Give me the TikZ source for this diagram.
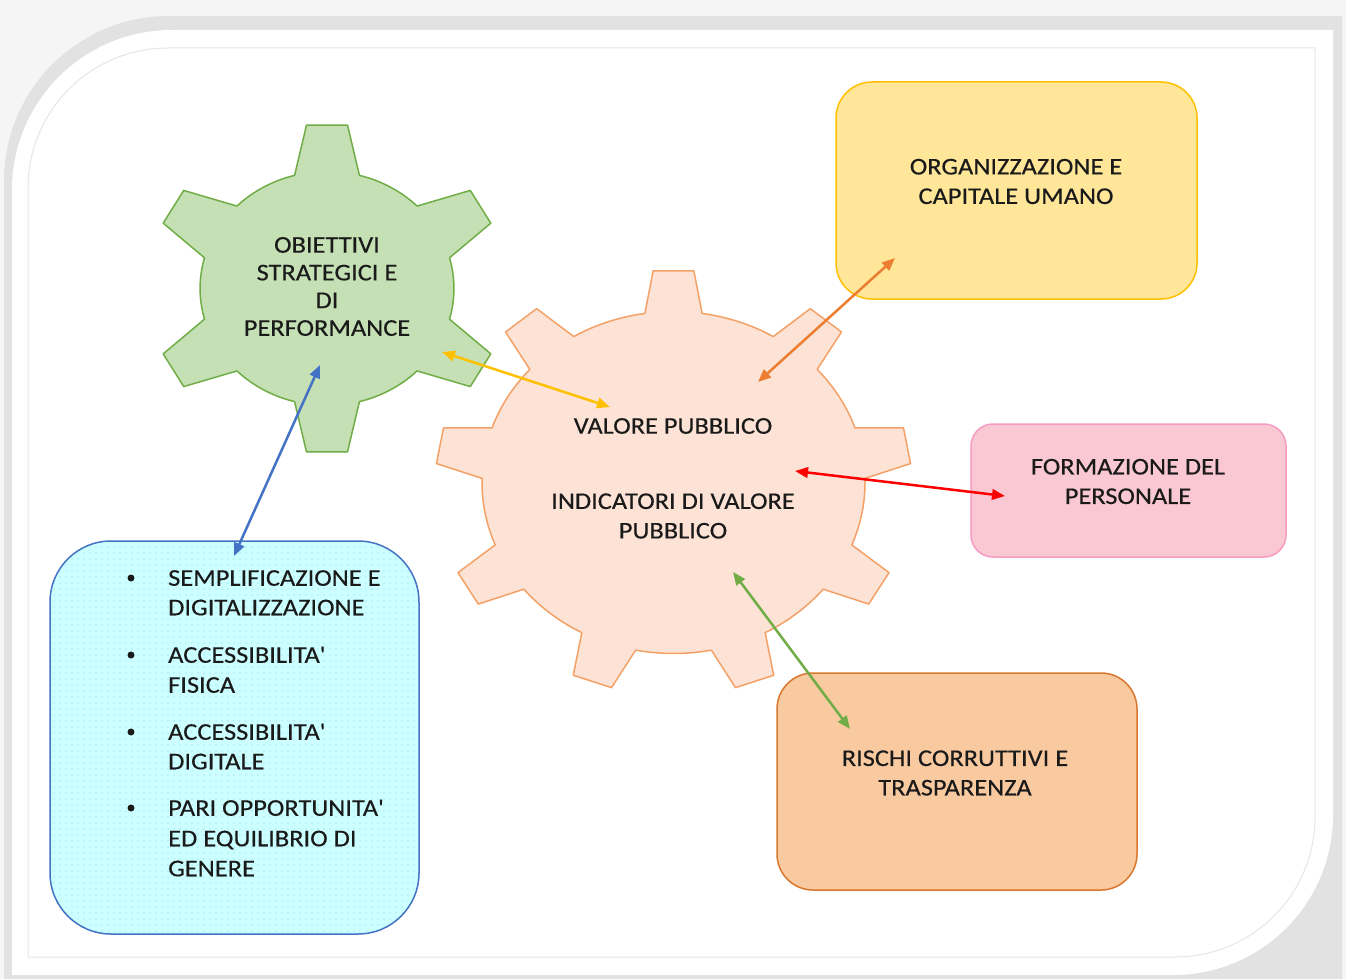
\documentclass[tikz,border=0pt]{standalone}
\usepackage{fontspec}
\setmainfont{Carlito}[FakeStretch=1.10,FakeBold=0.35,Ligatures=TeXOff]
\usetikzlibrary{arrows.meta,patterns.meta}
\definecolor{bgout}{HTML}{F5F5F5}
\definecolor{shadowc}{HTML}{E2E2E2}
\definecolor{innerline}{HTML}{E6E6E6}
\definecolor{greenfill}{HTML}{C5E0B4}
\definecolor{greendraw}{HTML}{70AD47}
\definecolor{salmonfill}{HTML}{FCE3D5}
\definecolor{salmondraw}{HTML}{F4A167}
\definecolor{yellowfill}{HTML}{FFE699}
\definecolor{yellowdraw}{HTML}{FFC000}
\definecolor{pinkfill}{HTML}{FAC8D2}
\definecolor{pinkdraw}{HTML}{F59BC1}
\definecolor{orangefill}{HTML}{F9C9A0}
\definecolor{orangedraw}{HTML}{D9772E}
\definecolor{cyanfill}{HTML}{CCFFFF}
\definecolor{cyandot}{HTML}{8FD3EA}
\definecolor{bluedraw}{HTML}{4472C4}
\definecolor{arrowblue}{HTML}{4472C4}
\definecolor{arrowyellow}{HTML}{FFC000}
\definecolor{arroworange}{HTML}{ED7D31}
\definecolor{arrowred}{HTML}{FF0000}
\definecolor{arrowgreen}{HTML}{70AD47}
\definecolor{txt}{HTML}{1A1A1A}
\begin{document}
\begin{tikzpicture}[x=1pt,y=-1pt,
  box/.style={draw, line width=1.5pt, inner sep=0pt},
  lbl/.style={align=center, text=txt, font=\fontsize{24}{29.5}\selectfont, inner sep=0pt},
  geartxt/.style={align=center, text=txt, font=\fontsize{24}{27.7}\selectfont, inner sep=0pt},
  listline/.style={anchor=west, text=txt, font=\fontsize{24}{29.5}\selectfont, inner sep=0pt, text height=15.5pt, text depth=0pt},
  bulletdot/.style={circle, fill=txt, inner sep=0pt, minimum size=7pt},
  link/.style={line width=2.5pt, {Triangle[length=13pt,width=10.5pt]}-{Triangle[length=13pt,width=10.5pt]}},
]
\useasboundingbox (0,0) rectangle (1346,979);
% ---- frame ----
\fill[bgout] (0,0) rectangle (1346,979);
\fill[shadowc] (4,979) -- (4,16+165) arc[start angle=180,end angle=270,radius=165] -- (1342,16) -- (1342,979) -- cycle;
\fill[white] (12,975) -- (12,30+160) arc[start angle=180,end angle=270,radius=160] -- (1333,30) -- (1333,975-160) arc[start angle=0,end angle=90,radius=160] -- cycle;
\draw[innerline, line width=1pt] (28,957) -- (28,48+140) arc[start angle=180,end angle=270,radius=140] -- (1315,48) -- (1315,957-140) arc[start angle=0,end angle=90,radius=140] -- cycle;

% ---- green gear ----
\begin{scope}[shift={(327,288.5)}, xscale=1.085]
\def\gRt{164.5}\def\gRb{117}\def\gT{6.6}\def\gB{14.8}
\path[fill=greenfill, draw=greendraw, line width=1.5pt, line join=round]
  ({-90-\gB}:\gRb)
  \foreach \k in {0,...,5}{
    -- ({-90+60*\k-\gT}:\gRt) -- ({-90+60*\k+\gT}:\gRt) -- ({-90+60*\k+\gB}:\gRb)
    arc[start angle={-90+60*\k+\gB}, end angle={-30+60*\k-\gB}, radius=\gRb]
  } -- cycle;
\end{scope}

% ---- salmon gear ----
\begin{scope}[shift={(673.5,482.5)}, xscale=1.12]
\def\sRt{212.5}\def\sRb{171}\def\sT{4.9}\def\sB{8.6}
\path[fill=salmonfill, draw=salmondraw, line width=1.5pt, line join=round]
  ({-90-\sB}:\sRb)
  \foreach \k in {0,...,8}{
    -- ({-90+40*\k-\sT}:\sRt) -- ({-90+40*\k+\sT}:\sRt) -- ({-90+40*\k+\sB}:\sRb)
    arc[start angle={-90+40*\k+\sB}, end angle={-50+40*\k-\sB}, radius=\sRb]
  } -- cycle;
\end{scope}

% ---- boxes ----
\node[box, fill=yellowfill, draw=yellowdraw, minimum width=361pt, minimum height=217pt, rounded corners=36pt] (org) at (1016.5,190.5) {};
\node[box, fill=pinkfill, draw=pinkdraw, minimum width=315pt, minimum height=133pt, rounded corners=22pt] (form) at (1128.5,490.5) {};
\node[box, fill=orangefill, draw=orangedraw, minimum width=360pt, minimum height=217pt, rounded corners=36pt] (risk) at (957,781.5) {};
\node[box, draw=bluedraw, preaction={fill=cyanfill}, pattern={Dots[distance=6pt,radius=0.6pt]}, pattern color=cyandot, minimum width=369pt, minimum height=393pt, rounded corners=61pt] (list) at (234.5,737.5) {};

% ---- texts ----
\node[geartxt] (obj) at (327,286.5) {OBIETTIVI\\STRATEGICI E\\DI\\PERFORMANCE};
\node[lbl] (vp) at (673,426) {VALORE PUBBLICO};
\node[lbl] (ind) at (673,516) {INDICATORI DI VALORE\\PUBBLICO};
\node[lbl] (orgt) at (1016,181.5) {ORGANIZZAZIONE E\\CAPITALE UMANO};
\node[lbl] (formt) at (1128,481.5) {FORMAZIONE DEL\\PERSONALE};
\node[lbl] (riskt) at (955,773) {RISCHI CORRUTTIVI E\\TRASPARENZA};

\node[bulletdot] (b1) at (131,578) {};
\node[listline] (l1a) at (168,578) {SEMPLIFICAZIONE E};
\node[listline] (l1b) at (168,607.5) {DIGITALIZZAZIONE};
\node[bulletdot] (b2) at (131,655) {};
\node[listline] (l2a) at (168,655) {ACCESSIBILITA'};
\node[listline] (l2b) at (168,685) {FISICA};
\node[bulletdot] (b3) at (131,732) {};
\node[listline] (l3a) at (168,732) {ACCESSIBILITA'};
\node[listline] (l3b) at (168,761.5) {DIGITALE};
\node[bulletdot] (b4) at (131,808) {};
\node[listline] (l4a) at (168,808) {PARI OPPORTUNITA'};
\node[listline] (l4b) at (168,838.5) {ED EQUILIBRIO DI};
\node[listline] (l4c) at (168,868.5) {GENERE};

% ---- connector end points ----
\coordinate (cObj1) at (320,365);
\coordinate (cList) at (234,556);
\coordinate (cObj2) at (442,352);
\coordinate (cVal1) at (610,407);
\coordinate (cOrg) at (895,258);
\coordinate (cVal2) at (758,382);
\coordinate (cVal3) at (795,471);
\coordinate (cForm) at (1005,496);
\coordinate (cVal4) at (733,572);
\coordinate (cRisk) at (850,729);

% ---- connectors ----
\draw[link, arrowblue] (cObj1) -- (cList);
\draw[link, arrowyellow] (cObj2) -- (cVal1);
\draw[link, arroworange] (cOrg) -- (cVal2);
\draw[link, arrowred] (cVal3) -- (cForm);
\draw[link, arrowgreen] (cVal4) -- (cRisk);
\end{tikzpicture}
\end{document}
